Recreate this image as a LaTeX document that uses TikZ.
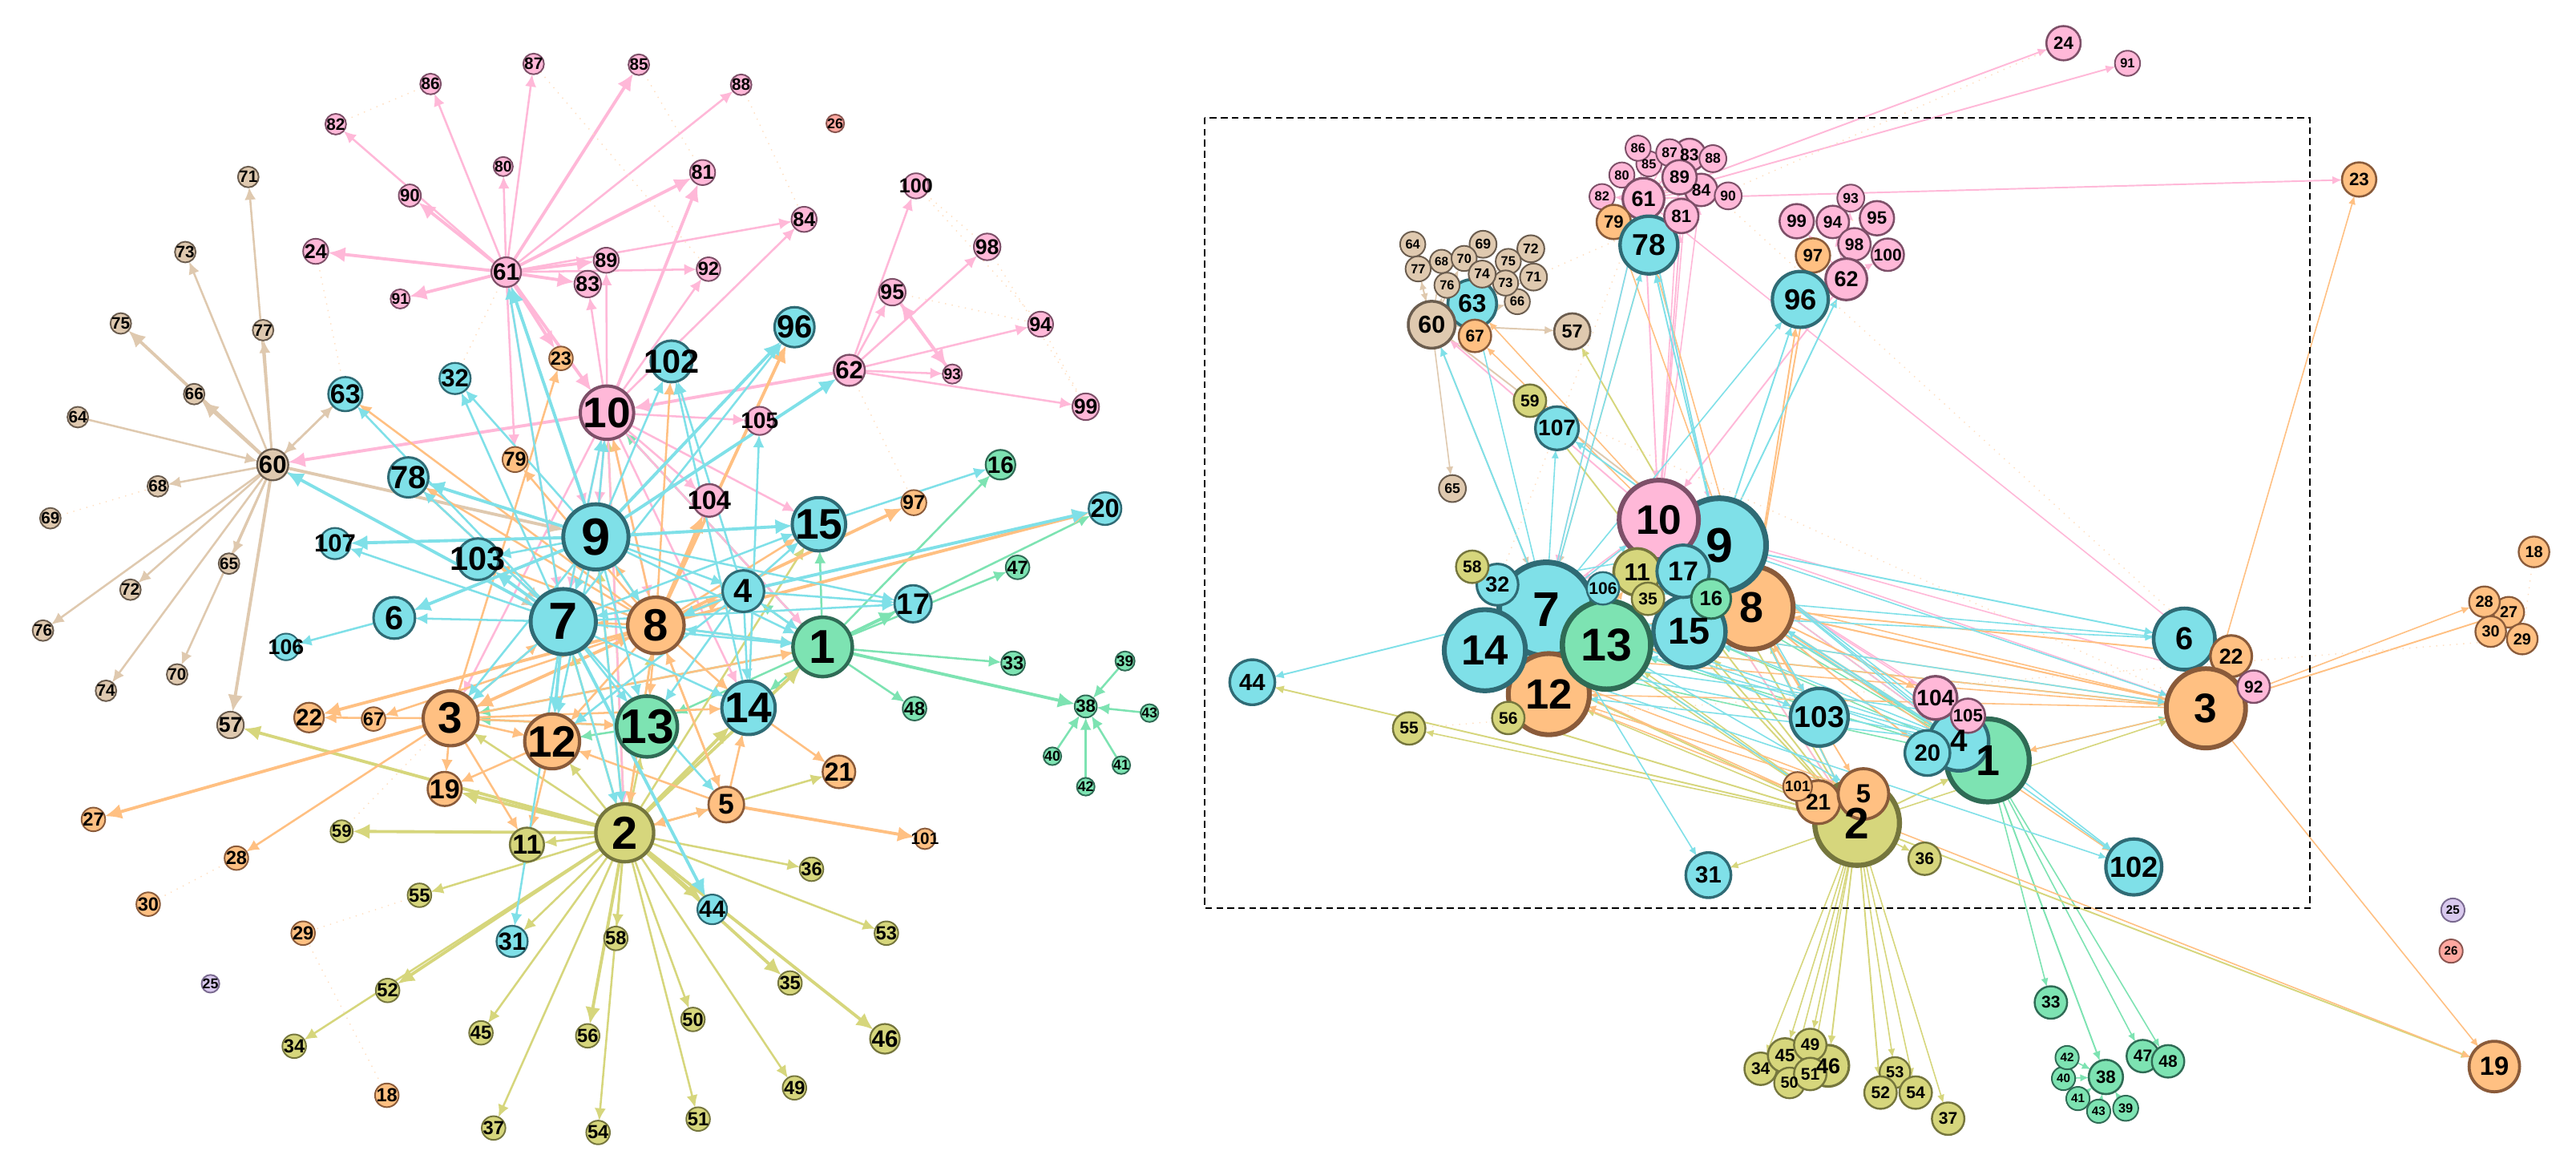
\documentclass[tikz,border=0pt]{standalone}
\usepackage{fontspec}
\setmainfont{Liberation Sans}
\usetikzlibrary{arrows.meta,backgrounds}
\definecolor{cblue}{HTML}{7FE0E8}\definecolor{dblue}{HTML}{2F6B75}
\definecolor{cgreen}{HTML}{7DE3B2}\definecolor{dgreen}{HTML}{2F6B55}
\definecolor{corg}{HTML}{FFC082}\definecolor{dorg}{HTML}{8A5B3A}
\definecolor{cpink}{HTML}{FFB8D8}\definecolor{dpink}{HTML}{7D4F68}
\definecolor{coli}{HTML}{D6D67C}\definecolor{doli}{HTML}{75763D}
\definecolor{ctan}{HTML}{DFC9AF}\definecolor{dtan}{HTML}{6B5D4F}
\definecolor{clav}{HTML}{D9C9EE}\definecolor{dlav}{HTML}{7A6A90}
\definecolor{csal}{HTML}{FFA8A0}\definecolor{dsal}{HTML}{8A5550}
\tikzset{
  netnode/.style={circle,inner sep=0pt,outer sep=0pt},
  netlabel/.style={inner sep=0pt,outer sep=0pt,font=\bfseries,text=black},
  ledge/.style={line width=0.72pt,-{Latex[length=4.4pt,width=4pt]}},
  lthick/.style={line width=1.1pt,-{Latex[length=6pt,width=5.4pt]}},
  redge/.style={line width=0.45pt,-{Latex[length=3pt,width=2.6pt]}},
  rthick/.style={line width=0.55pt,-{Latex[length=3.4pt,width=2.9pt]}},
  faint/.style={line width=0.4pt,dotted,draw=#1!50},
  frameline/.style={draw=black,line width=0.8pt,dash pattern=on 2.4pt off 1.5pt},
}
% disc: name, x, y, diameter (px), colour
\newcommand{\netnd}[5]{%
  \pgfmathsetmacro{\ndlw}{max(#4*0.06*0.2845,0.55)}%
  \pgfmathsetmacro{\ndmin}{#4*0.2845}%
  \node[netnode,fill=c#5,draw=d#5,line width=\ndlw pt,minimum size=\ndmin pt] (#1) at (#2,#3) {};}
% label on top of all discs: disc name, text, diameter (px), text factor
\newcommand{\netlb}[4]{%
  \pgfmathsetmacro{\ndfs}{#3*#4*0.2845}%
  \node[netlabel] (T#1) at (#1.center) {\fontsize{\ndfs}{\ndfs}\selectfont #2};}
% node lists
\def\leftnodes{1/1110/870/80/green,2/843/1120/78/oli,3/608/966/74/org,4/1003/795/56/blue,5/980/1082/48/org,6/532/831/56/blue,7/760/836/88/blue,8/885/841/76/org,9/804/722/88/blue,10/819/555/72/pink,11/711/1136/46/oli,12/745/997/74/org,13/873/977/82/green,14/1010/952/72/blue,15/1105/705/72/blue,16/1350/625/40/green,17/1232/812/50/blue,18/522/1473/32/org,19/600/1061/46/org,20/1491/684/44/blue,21/1132/1038/44/org,22/417/965/40/org,23/757/482/32/org,24/426/338/34/pink,25/284/1323/24/lav,26/1127/166/24/sal,27/126/1102/32/org,28/319/1154/32/org,29/409/1255/32/org,30/200/1216/32/org,31/691/1266/42/blue,32/614/509/42/blue,33/1367/892/32/green,34/397/1407/32/oli,35/1066/1322/32/oli,36/1095/1169/32/oli,37/666/1517/32/oli,38/1465/950/30/green,39/1518/889/26/green,40/1420/1017/24/green,41/1513/1029/24/green,42/1465/1058/24/green,43/1551/959/24/green,44/961/1223/40/blue,45/649/1389/32/oli,46/1194/1397/40/oli,47/1373/763/32/green,48/1234/953/32/green,49/1072/1463/32/oli,50/935/1371/32/oli,51/942/1505/32/oli,52/523/1332/32/oli,53/1196/1255/32/oli,54/807/1523/32/oli,55/566/1204/32/oli,56/793/1393/32/oli,57/311/975/36/tan,58/831/1262/32/oli,59/461/1118/30/oli,60/368/625/42/tan,61/683/366/40/pink,62/1146/498/42/pink,63/466/530/46/blue,64/105/561/28/tan,65/309/758/28/tan,66/262/530/28/tan,67/504/967/32/org,68/213/654/28/tan,69/68/697/28/tan,70/239/907/28/tan,71/335/238/28/tan,72/176/793/28/tan,73/250/339/28/tan,74/143/929/28/tan,75/163/435/28/tan,76/58/848/28/tan,77/355/444/28/tan,78/551/642/54/blue,79/695/618/34/org,80/679/224/26/pink,81/948/232/34/pink,82/453/167/28/pink,83/793/382/36/pink,84/1085/295/34/pink,85/862/87/28/pink,86/581/113/28/pink,87/720/86/28/pink,88/1000/114/28/pink,89/818/350/34/pink,90/553/263/30/pink,91/540/402/26/pink,92/956/362/32/pink,93/1285/503/26/pink,94/1404/436/34/pink,95/1204/393/36/pink,96/1072/440/54/blue,97/1233/676/34/org,98/1332/332/36/pink,99/1465/547/36/pink,100/1236/250/34/pink,101/1248/1128/28/org,102/906/486/56/blue,103/645/752/56/blue,104/957/673/44/pink,105/1025/566/38/pink,106/386/870/36/blue,107/452/731/42/blue}
\def\rightnodes{8/654/816/92/org,9/618/732/104/blue,10/551/698/88/pink,15/585/848/80/blue,7/426/818/104/blue,12/429/932/90/org,14/358/873/90/blue,11/527/768/52/oli,13/493/866/98/green,17/578/767/58/blue,16/609/804/44/green,35/539/804/36/oli,106/489/790/36/blue,32/372/785/46/blue,58/344/761/36/oli,56/384/964/36/oli,1/916/1021/92/green,4/884/995/66/blue,20/849/1011/50/blue,104/858/937/48/pink,105/894/961/38/pink,103/729/963/64/blue,2/771/1105/94/oli,21/728/1077/48/org,5/778/1066/56/org,101/705/1056/32/org,6/1134/858/68/blue,22/1186/881/46/org,3/1158/951/88/org,92/1211/922/36/pink,18/1522/741/34/org,19/1478/1432/56/org,23/1328/241/38/org,24/1000/58/38/pink,25/1432/1222/26/lav,26/1430/1277/26/sal,27/1494/822/34/org,28/1467/808/34/org,29/1509/858/34/org,30/1474/848/34/org,31/606/1175/50/blue,33/986/1346/36/green,34/664/1435/36/oli,36/846/1153/36/oli,37/872/1502/36/oli,38/1047/1446/38/green,39/1069/1488/28/green,40/1000/1448/26/green,41/1016/1475/26/green,42/1004/1420/26/green,43/1039/1492/26/green,44/100/916/50/blue,46/739/1431/46/oli,45/691/1417/38/oli,47/1088/1418/36/green,48/1116/1425/36/green,49/719/1403/36/oli,50/696/1454/34/oli,51/719/1442/36/oli,53/813/1440/34/oli,52/797/1467/36/oli,54/836/1467/36/oli,55/274/978/36/oli,57/455/445/40/tan,59/408/538/36/oli,64/278/328/28/tan,77/284/361/28/tan,69/356/328/30/tan,68/310/351/26/tan,70/335/347/28/tan,72/409/334/30/tan,75/384/351/28/tan,71/412/372/30/tan,66/394/405/28/tan,63/344/408/54/blue,73/381/380/28/tan,74/355/368/30/tan,76/316/383/28/tan,60/299/436/52/tan,67/347/451/36/org,65/322/656/30/tan,83/585/208/36/pink,85/540/220/28/pink,86/528/199/28/pink,80/510/235/28/pink,87/563/205/30/pink,88/611/213/30/pink,84/598/255/36/pink,89/574/238/38/pink,90/628/263/30/pink,82/488/264/28/pink,61/534/267/46/pink,79/501/298/38/org,78/540/329/64/blue,81/576/290/38/pink,91/1071/85/28/pink,93/764/266/30/pink,95/793/293/38/pink,99/704/297/38/pink,94/744/298/36/pink,100/805/342/36/pink,98/768/328/36/pink,62/759/375/46/pink,97/722/343/38/org,96/708/402/62/blue,102/1078/1164/62/blue,107/438/575/48/blue}
% edge lists shared by both panels
\def\pinkthin{61/86,61/80,61/87,61/88,61/84,61/92,61/79,61/9,61/7,10/83,10/89,10/92,10/84,10/105,10/104,10/15,10/1,10/14,10/3,10/7,10/9,10/8,10/2,62/100,62/95,62/98,62/94,62/93,62/99,61/82}
\def\pinkthick{61/90,61/23,10/60,62/10,95/93,93/95,61/81,61/85,61/83,61/89,10/81,61/10,61/91,61/24}
\def\bluethin{7/63,7/78,9/103,7/107,7/6,6/106,9/17,7/17,9/1,9/4,9/102,9/32,7/32,9/10,7/10,7/61,9/7,9/8,9/13,9/12,9/2,9/3,7/3,7/2,7/13,7/14,7/31,7/5,7/15,7/96,4/15,4/17,4/102,14/102,4/1,4/14,4/13,4/7,4/8,4/12,15/16,14/105,8/1,1/8,7/1}
\def\bluethick{9/78,9/107,7/60,9/15,7/44,4/20,7/103,7/12,9/62,9/96,9/61,9/6}
\def\greenthin{1/16,1/47,1/20,1/33,1/48,1/15,1/4,1/14,1/13,1/3,1/10,39/38,43/38,40/38,41/38,42/38,13/12,13/3}
\def\greenthick{1/17,1/38}
\def\orgthin{8/1,8/15,8/102,8/10,8/9,8/7,8/13,8/14,8/5,8/2,8/12,8/67,8/63,8/78,8/103,8/79,3/23,3/28,3/19,3/11,3/12,3/13,3/14,3/1,3/8,3/7,3/22,12/19,12/11,5/14,5/2,5/8,5/12,2/5,14/21}
\def\orgthick{8/97,8/20,8/104,8/4,8/22,3/27,8/3,5/101,8/96}
\def\olithin{2/3,2/11,2/55,2/34,2/45,2/58,2/54,2/37,2/50,2/51,2/49,2/53,2/36,2/12,2/31,2/15,2/13,2/8,2/7,2/9,2/10,2/5,5/21}
\def\olithick{2/19,2/52,2/56,2/44,2/14,2/1,2/46,2/35,2/57,2/59}
\def\tanthin{60/71,60/73,60/77,60/72,60/74,60/76,60/70,60/65,60/68,64/60,63/60,60/63,60/7,78/7}
\def\tanthick{60/75,60/66,60/57,60/9}
\def\faintlist{86/82,69/68,30/28,18/29,24/63,85/81,88/84,87/92,100/98,98/99,94/99,62/97,55/29,59/3,100/94,95/94,61/32}
\newcommand{\alledges}[3]{%
  \foreach \ea/\eb in \tanthin {\draw[#2,draw=ctan] (#1\ea) -- (#1\eb);}
  \foreach \ea/\eb in \tanthick {\draw[#3,draw=ctan] (#1\ea) -- (#1\eb);}
  \foreach \ea/\eb in \greenthin {\draw[#2,draw=cgreen] (#1\ea) -- (#1\eb);}
  \foreach \ea/\eb in \greenthick {\draw[#3,draw=cgreen] (#1\ea) -- (#1\eb);}
  \foreach \ea/\eb in \olithin {\draw[#2,draw=coli] (#1\ea) -- (#1\eb);}
  \foreach \ea/\eb in \olithick {\draw[#3,draw=coli] (#1\ea) -- (#1\eb);}
  \foreach \ea/\eb in \pinkthin {\draw[#2,draw=cpink] (#1\ea) -- (#1\eb);}
  \foreach \ea/\eb in \pinkthick {\draw[#3,draw=cpink] (#1\ea) -- (#1\eb);}
  \foreach \ea/\eb in \orgthin {\draw[#2,draw=corg] (#1\ea) -- (#1\eb);}
  \foreach \ea/\eb in \orgthick {\draw[#3,draw=corg] (#1\ea) -- (#1\eb);}
  \foreach \ea/\eb in \bluethin {\draw[#2,draw=cblue] (#1\ea) -- (#1\eb);}
  \foreach \ea/\eb in \bluethick {\draw[#3,draw=cblue] (#1\ea) -- (#1\eb);}
  \foreach \ea/\eb in \faintlist {\draw[faint=corg] (#1\ea) -- (#1\eb);}
}
\begin{document}
\begin{tikzpicture}
\useasboundingbox (0,0) rectangle (32.14,-14.55);
% ---------- left panel ----------
\begin{scope}[x=0.009247cm,y=-0.00928cm]
\foreach \nm/\xx/\yy/\dd/\col in \leftnodes
{\pgfmathsetmacro{\dpx}{\dd*0.925}\netnd{L\nm}{\xx}{\yy}{\dpx}{\col}}
\foreach \nm/\xx/\yy/\dd/\col in \leftnodes
{\pgfmathsetmacro{\dpx}{\dd*0.925}\netlb{L\nm}{\nm}{\dpx}{0.8}}
\end{scope}
% ---------- right panel ----------
\begin{scope}[shift={(14.5,0)},x=0.01125cm,y=-0.009295cm]
\foreach \nm/\xx/\yy/\dd/\col in \rightnodes
{\pgfmathsetmacro{\dpx}{\dd*1.125}\netnd{R\nm}{\xx}{\yy}{\dpx}{\col}}
\foreach \nm/\xx/\yy/\dd/\col in \rightnodes
{\pgfmathsetmacro{\dpx}{\dd*1.125}\netlb{R\nm}{\nm}{\dpx}{0.52}}
\end{scope}
\begin{pgfonlayer}{background}
\fill[white] (0,0) rectangle (32.14,-14.55);
\alledges{L}{ledge}{lthick}
\alledges{R}{redge}{rthick}
\end{pgfonlayer}
\coordinate (frameA) at (15.03,-1.47);
\coordinate (frameB) at (28.82,-11.33);
\draw[frameline] (frameA) rectangle (frameB);
\end{tikzpicture}
\end{document}
